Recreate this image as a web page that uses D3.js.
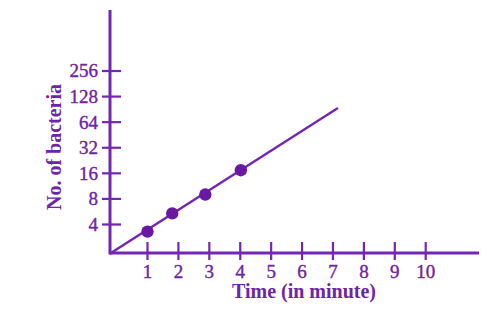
<!DOCTYPE html>
<html>
<head>
<meta charset="utf-8">
<script src="https://cdn.jsdelivr.net/npm/d3@7"></script>
<style>
  body { margin: 0; background: #fff; }
  text { font-family: "Liberation Serif", "Times New Roman", serif; }
</style>
</head>
<body>
<div id="chart"></div>
<script>
// data
var timeTicks = [1, 2, 3, 4, 5, 6, 7, 8, 9, 10];
var countTicks = [4, 8, 16, 32, 64, 128, 256];
var pointTimes = [1, 1.8, 2.87, 4.02];
var pointCounts = [3.3, 5.4, 9, 17.4];
// fitted line: starts at the axis corner, ends near t = 7.2
var lineTimes = [-0.21, 7.16];
var lineCounts = [1.82, 94];

var purple = "#7226b2";
var textPurple = "#6e24a6";

var svg = d3.select("#chart").append("svg")
  .attr("width", 499)
  .attr("height", 311);

// set the ranges
var x = d3.scaleLinear().domain([1, 10]).range([147.5, 425.7]);
var y = d3.scaleLog().base(2).domain([4, 256]).range([224.5, 71]);

var originX = 110, originY = 253;

// axes lines
svg.append("line")
  .attr("x1", originX).attr("y1", originY)
  .attr("x2", 479).attr("y2", originY)
  .attr("stroke", purple).attr("stroke-width", 3);

svg.append("line")
  .attr("x1", originX).attr("y1", originY + 1.5)
  .attr("x2", originX).attr("y2", 10)
  .attr("stroke", purple).attr("stroke-width", 3);

// X ticks
var xt = svg.append("g").selectAll("g")
  .data(timeTicks)
  .enter().append("g")
  .attr("transform", function(d) { return "translate(" + x(d) + "," + originY + ")"; });
xt.append("line")
  .attr("y1", -11).attr("y2", 7)
  .attr("stroke", purple).attr("stroke-width", 2.2);
xt.append("text")
  .attr("y", 25)
  .attr("text-anchor", "middle")
  .attr("fill", textPurple)
  .attr("stroke", textPurple)
  .attr("stroke-width", 0.4)
  .style("font-size", "19px")
  .text(function(d) { return d; });

// Y ticks
var yt = svg.append("g").selectAll("g")
  .data(countTicks)
  .enter().append("g")
  .attr("transform", function(d) { return "translate(" + originX + "," + y(d) + ")"; });
yt.append("line")
  .attr("x1", -8).attr("x2", 11)
  .attr("stroke", purple).attr("stroke-width", 2.2);
yt.append("text")
  .attr("x", -12)
  .attr("dy", "0.34em")
  .attr("text-anchor", "end")
  .attr("fill", textPurple)
  .attr("stroke", textPurple)
  .attr("stroke-width", 0.4)
  .style("font-size", "19px")
  .text(function(d) { return d; });

// fit line
var fit = lineTimes.map(function(t, i) { return {t: t, n: lineCounts[i]}; });
svg.append("path")
  .datum(fit)
  .attr("fill", "none")
  .attr("stroke", purple)
  .attr("stroke-width", 2.4)
  .attr("d", d3.line()
    .x(function(d) { return x(d.t); })
    .y(function(d) { return y(d.n); }));

// data points
var pts = pointTimes.map(function(t, i) { return {t: t, n: pointCounts[i]}; });
svg.selectAll("circle")
  .data(pts)
  .enter().append("circle")
  .attr("cx", function(d) { return x(d.t); })
  .attr("cy", function(d) { return y(d.n); })
  .attr("r", 6.2)
  .attr("fill", "#6918a4");

// axis titles
svg.append("text")
  .attr("x", 304)
  .attr("y", 298)
  .attr("text-anchor", "middle")
  .attr("fill", textPurple)
  .style("font-size", "20px")
  .style("font-weight", "bold")
  .text("Time (in minute)");

svg.append("text")
  .attr("transform", "translate(61,147) rotate(-90)")
  .attr("text-anchor", "middle")
  .attr("fill", textPurple)
  .style("font-size", "20px")
  .style("font-weight", "bold")
  .text("No. of bacteria");
</script>
</body>
</html>
